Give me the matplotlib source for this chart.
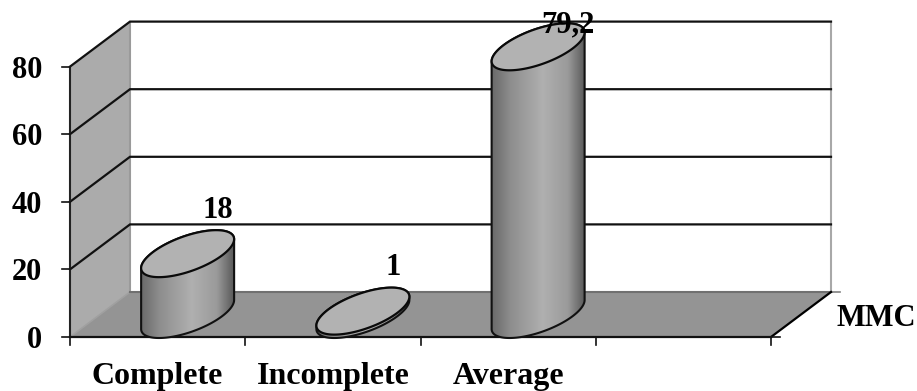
import numpy as np
import matplotlib
matplotlib.use("Agg")
import matplotlib.pyplot as plt
from matplotlib.colors import LinearSegmentedColormap
from matplotlib.patches import Polygon

categories = ["Complete", "Incomplete", "Average"]
values = [18, 1, 79.2]
value_labels = ["18", "1", "79,2"]
y_ticks = [0, 20, 40, 60, 80]
depth_label = "MMC"
n_slots = 4

W, H = 917, 391
PX_X = 175.25          # pixels per category
PX_Y = 3.38            # pixels per value unit
X0, Y0 = 70, 337       # pixel of the origin
DX = 60 / PX_X         # depth shift in data units
DY = 45 / PX_Y
YMAX = 80

plt.rcParams["font.family"] = ["Liberation Serif", "DejaVu Serif"]
plt.rcParams["font.weight"] = "bold"
fig = plt.figure(figsize=(W / 100, H / 100), dpi=100)
ax = fig.add_axes([0, 0, 1, 1])
ax.set_xlim(-X0 / PX_X, (W - X0) / PX_X)
ax.set_ylim((Y0 - H) / PX_Y, Y0 / PX_Y)
ax.axis("off")

# walls and floor
ax.add_patch(Polygon([(0, 0), (DX, DY), (DX, YMAX + DY), (0, YMAX)],
                     fc="#ababab", ec="none", zorder=1))
ax.add_patch(Polygon([(0, 0), (n_slots, 0), (n_slots + DX, DY), (DX, DY)],
                     fc="#949494", ec="none", zorder=1))
ax.plot([DX, DX], [DY, YMAX + DY], color="#9a9a9a", lw=1.5, zorder=2)
ax.plot([n_slots + DX] * 2, [DY, YMAX + DY], color="#a8a8a8", lw=1.5, zorder=2)
ax.plot([0, DX], [0, DY], color="#a0a0a0", lw=1.2, zorder=2)
ax.plot([DX, n_slots + DX], [DY, DY], color="#707070", lw=1.5, zorder=2)
ax.plot([n_slots + DX, n_slots + DX + 0.05], [DY, DY], color="#808080", lw=1.2, zorder=2)

# gridlines
for t in y_ticks[1:]:
    ax.plot([0, DX, n_slots + DX], [t, t + DY, t + DY], color="#111111", lw=1.6,
            zorder=3, solid_joinstyle="miter")
ax.plot([n_slots, n_slots + DX], [0, DY], color="black", lw=1.6, zorder=3)

# axes and ticks
ax.plot([0, 0], [0, YMAX], color="#222222", lw=1.5, zorder=4)
ax.plot([0, n_slots], [0, 0], color="#111111", lw=1.6, zorder=4)
for t in y_ticks:
    ax.plot([-8 / PX_X, 0], [t, t], color="#111111", lw=1.2, zorder=4)
    ax.text(-28 / PX_X, t, str(t), ha="right", va="center_baseline", fontsize=22, color="black", zorder=8)
for i in range(n_slots + 1):
    ax.plot([i, i], [0, -8 / PX_Y], color="#111111", lw=1.2, zorder=4)
ax.plot([n_slots, n_slots + 0.05], [0, 0], color="#111111", lw=1.2, zorder=4)

# cylinders
RX = 46.5 / PX_X
RY = 23.5 / PX_Y
PHI = np.radians(38)
cmap = LinearSegmentedColormap.from_list(
    "cyl", [(0, "#6a6a6a"), (0.2, "#8e8e8e"), (0.55, "#b0b0b0"), (0.82, "#9a9a9a"), (1, "#5a5a5a")])
grad = np.linspace(0, 1, 128).reshape(1, -1)
t = np.linspace(0, 2 * np.pi, 241)

for i, (v, lab) in enumerate(zip(values, value_labels)):
    cx = i + 0.5 + DX / 2
    cy0 = DY / 2
    ex = RX * np.cos(t)
    ey = RY * np.sin(t + PHI)
    # silhouette: bottom ellipse lower arc, then top ellipse upper arc
    lower = np.sin(t) < 0
    idx_low = np.where(lower)[0]
    idx_low = idx_low[np.argsort(ex[idx_low])]
    idx_up = np.where(~lower)[0]
    idx_up = idx_up[np.argsort(-ex[idx_up])]
    xs = np.r_[cx + ex[idx_low], cx + ex[idx_up]]
    ys = np.r_[cy0 + ey[idx_low], cy0 + v + ey[idx_up]]
    body = Polygon(np.c_[xs, ys], closed=True, fc="none", ec="#111111", lw=1.5, zorder=5)
    im = ax.imshow(grad, extent=[cx - RX, cx + RX, cy0 - RY, cy0 + v + RY],
                   aspect="auto", cmap=cmap, vmin=0, vmax=1, zorder=4.5,
                   interpolation="bilinear")
    ax.add_patch(body)
    im.set_clip_path(body)
    ax.add_patch(Polygon(np.c_[cx + ex, cy0 + v + ey], closed=True, fc="#b2b2b2",
                         ec="#0a0a0a", lw=1.6, zorder=6))
    label_y = min(cy0 + v + 47 / PX_Y, YMAX + DY)
    ax.text(cx + 30 / PX_X, label_y, lab, ha="center", va="center_baseline", fontsize=22,
            color="black", zorder=8)

ax.set_xlim(-X0 / PX_X, (W - X0) / PX_X)
ax.set_ylim((Y0 - H) / PX_Y, Y0 / PX_Y)

# text labels
for i, c in enumerate(categories):
    ax.text(i + 0.5, -36 / PX_Y, c, ha="center", va="center_baseline", fontsize=23, color="black")
ax.text(n_slots + DX + 0.03, DY / 2 + 0 / PX_Y, depth_label, ha="left", va="center_baseline",
        fontsize=22, color="black")

fig.savefig("out.png", dpi=100, facecolor="white")
